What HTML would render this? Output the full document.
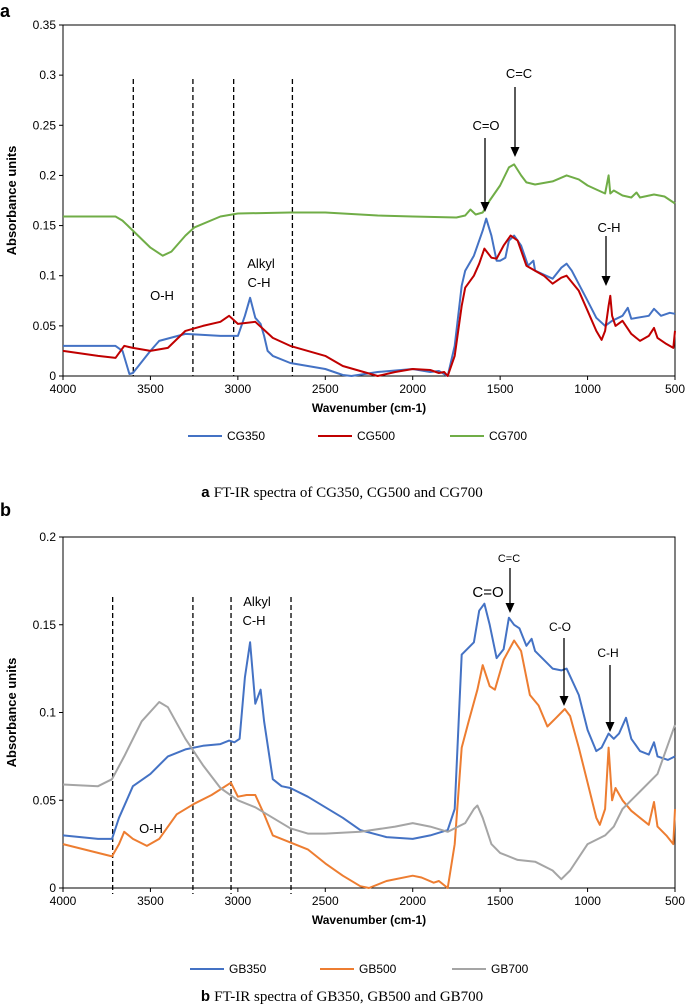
<!DOCTYPE html>
<html><head><meta charset="utf-8"><style>
html,body{margin:0;padding:0;background:#fff;}
svg{display:block;font-family:"Liberation Sans",sans-serif;}
.cap{font-family:"Liberation Serif",serif;font-size:15px;}
</style></head><body>
<svg id="svg" width="685" height="1008" viewBox="0 0 685 1008"></svg>
<script>
const xTicks=[4000,3500,3000,2500,2000,1500,1000,500];
const yTicksA=[0,0.05,0.1,0.15,0.2,0.25,0.3,0.35];
const yTicksB=[0,0.05,0.1,0.15,0.2];
const cg350=[[4000,0.030],[3700,0.030],[3660,0.025],[3620,0.002],[3600,0.003],[3500,0.025],[3450,0.035],[3300,0.042],[3100,0.040],[3000,0.040],[2960,0.06],[2930,0.078],[2900,0.058],[2870,0.052],[2850,0.04],[2830,0.025],[2800,0.02],[2700,0.013],[2500,0.007],[2400,0.001],[2350,0.0],[2200,0.004],[2000,0.007],[1900,0.004],[1850,0.005],[1800,0.0],[1760,0.03],[1720,0.09],[1700,0.105],[1650,0.12],[1600,0.145],[1580,0.157],[1550,0.14],[1520,0.115],[1500,0.115],[1470,0.118],[1450,0.135],[1420,0.14],[1380,0.13],[1340,0.11],[1310,0.115],[1300,0.105],[1200,0.097],[1150,0.108],[1120,0.112],[1090,0.105],[1000,0.075],[950,0.058],[900,0.05],[860,0.055],[800,0.06],[770,0.068],[750,0.057],[650,0.06],[620,0.067],[580,0.06],[530,0.063],[500,0.062]];
const cg500=[[4000,0.025],[3800,0.02],[3700,0.018],[3650,0.03],[3600,0.028],[3500,0.025],[3400,0.028],[3300,0.045],[3200,0.05],[3100,0.054],[3050,0.06],[3000,0.052],[2900,0.054],[2850,0.046],[2800,0.038],[2700,0.03],[2600,0.025],[2500,0.02],[2400,0.01],[2200,0.0],[2100,0.004],[2000,0.007],[1900,0.006],[1850,0.003],[1820,0.004],[1800,0.0],[1760,0.02],[1720,0.07],[1700,0.088],[1650,0.1],[1620,0.112],[1590,0.127],[1550,0.118],[1520,0.117],[1480,0.13],[1440,0.14],[1400,0.135],[1350,0.11],[1300,0.105],[1250,0.1],[1200,0.092],[1150,0.098],[1120,0.1],[1050,0.085],[1000,0.065],[950,0.045],[920,0.036],[900,0.045],[880,0.07],[870,0.08],[860,0.06],[840,0.05],[800,0.055],[750,0.042],[700,0.035],[650,0.04],[620,0.048],[600,0.038],[550,0.032],[510,0.028],[500,0.045]];
const cg700=[[4000,0.159],[3700,0.159],[3660,0.155],[3600,0.145],[3500,0.128],[3430,0.120],[3380,0.124],[3300,0.14],[3250,0.148],[3100,0.159],[3000,0.162],[2700,0.163],[2500,0.163],[2200,0.160],[2000,0.159],[1750,0.158],[1700,0.16],[1670,0.166],[1640,0.161],[1600,0.163],[1560,0.175],[1500,0.19],[1450,0.208],[1420,0.211],[1380,0.2],[1350,0.193],[1300,0.191],[1200,0.194],[1120,0.2],[1050,0.196],[1000,0.19],[950,0.186],[900,0.182],[880,0.2],[870,0.182],[850,0.185],[800,0.18],[750,0.178],[720,0.183],[700,0.178],[620,0.181],[560,0.179],[500,0.172]];
const gb350=[[4000,0.030],[3800,0.028],[3720,0.028],[3680,0.04],[3600,0.058],[3500,0.065],[3400,0.075],[3300,0.079],[3200,0.081],[3100,0.082],[3050,0.084],[3020,0.083],[2990,0.085],[2960,0.12],[2930,0.14],[2900,0.105],[2870,0.113],[2850,0.095],[2800,0.062],[2750,0.058],[2700,0.057],[2600,0.052],[2400,0.04],[2300,0.033],[2150,0.029],[2000,0.028],[1900,0.03],[1800,0.033],[1760,0.045],[1720,0.133],[1680,0.137],[1650,0.14],[1620,0.158],[1590,0.162],[1560,0.15],[1520,0.131],[1480,0.136],[1450,0.154],[1420,0.15],[1390,0.148],[1350,0.138],[1320,0.142],[1300,0.135],[1200,0.125],[1150,0.124],[1120,0.125],[1050,0.11],[1000,0.09],[950,0.078],[920,0.08],[880,0.088],[850,0.085],[820,0.088],[780,0.097],[750,0.085],[700,0.078],[650,0.076],[620,0.083],[600,0.075],[540,0.073],[500,0.075]];
const gb500=[[4000,0.025],[3800,0.02],[3720,0.018],[3680,0.025],[3650,0.032],[3600,0.028],[3520,0.024],[3450,0.028],[3350,0.042],[3250,0.048],[3150,0.053],[3040,0.06],[3000,0.052],[2950,0.053],[2900,0.053],[2850,0.042],[2800,0.03],[2700,0.026],[2600,0.022],[2500,0.014],[2400,0.007],[2300,0.001],[2250,0.0],[2150,0.004],[2000,0.007],[1950,0.006],[1880,0.003],[1850,0.004],[1800,0.0],[1760,0.025],[1720,0.08],[1680,0.095],[1630,0.113],[1600,0.127],[1560,0.115],[1530,0.113],[1480,0.13],[1420,0.141],[1380,0.135],[1330,0.11],[1280,0.104],[1230,0.092],[1180,0.097],[1130,0.102],[1100,0.098],[1050,0.08],[1000,0.06],[950,0.04],[930,0.036],[900,0.045],[880,0.08],[860,0.05],[840,0.057],[800,0.05],[750,0.044],[700,0.04],[650,0.036],[620,0.049],[600,0.035],[550,0.03],[510,0.025],[500,0.045]];
const gb700=[[4000,0.059],[3800,0.058],[3720,0.062],[3650,0.075],[3550,0.095],[3450,0.106],[3400,0.103],[3300,0.085],[3200,0.07],[3100,0.057],[3000,0.05],[2900,0.046],[2800,0.04],[2700,0.034],[2600,0.031],[2500,0.031],[2300,0.032],[2100,0.035],[2000,0.037],[1900,0.035],[1800,0.032],[1700,0.037],[1650,0.045],[1630,0.047],[1600,0.04],[1550,0.025],[1500,0.02],[1400,0.016],[1300,0.015],[1200,0.01],[1150,0.005],[1100,0.01],[1000,0.025],[900,0.03],[850,0.035],[800,0.045],[700,0.055],[600,0.065],[500,0.093]];
const dashA=[3598,3257,3024,2688];
const dashB=[3716,3257,3039,2696];

const NS='http://www.w3.org/2000/svg';
const svg=document.getElementById('svg');
function mk(tag,attrs,parent,text){const e=document.createElementNS(NS,tag);for(const k in attrs)e.setAttribute(k,attrs[k]);if(text!==undefined)e.textContent=text;(parent||svg).appendChild(e);return e;}
const L=63,R=675;
function sx(w){return L+(4000-w)/3500*(R-L);}

function chart(cfg){
  const g=mk('g',{});
  
  
  const sy=v=>cfg.y0-(v/cfg.ymax)*(cfg.y0-cfg.ytop);
  const p=mk('text',{x:0,y:cfg.letterY,'font-size':18,'font-weight':'bold'},g,cfg.letter);
  
  const fr=mk('rect',{x:L,y:cfg.ytop,width:R-L,height:cfg.y0-cfg.ytop,fill:'none',stroke:'#000','stroke-width':1},g);
  
  cfg.yt.forEach(v=>{
    mk('line',{x1:L-4,x2:L,y1:sy(v),y2:sy(v),stroke:'#000'},g);
    const t=mk('text',{x:L-7,y:sy(v)+4,'font-size':12,'text-anchor':'end'},g,String(v));
    
  });
  xTicks.forEach(w=>{
    mk('line',{x1:sx(w),x2:sx(w),y1:cfg.y0,y2:cfg.y0+4,stroke:'#000'},g);
    const t=mk('text',{x:sx(w),y:cfg.y0+17,'font-size':12,'text-anchor':'middle'},g,String(w));
    
  });
  const xt=mk('text',{x:(L+R)/2,y:cfg.y0+36,'font-size':12,'font-weight':'bold','text-anchor':'middle'},g,'Wavenumber (cm-1)');
  
  const ym=(cfg.ytop+cfg.y0)/2;
  const yt=mk('text',{x:16,y:ym,'font-size':13,'font-weight':'bold','text-anchor':'middle',transform:`rotate(-90 16 ${ym})`},g,'Absorbance units');
  
  cfg.dash.forEach(w=>{
    const d=mk('line',{x1:sx(w),x2:sx(w),y1:cfg.dtop,y2:cfg.y0+(cfg.letter==='b'?6:0),stroke:'#000','stroke-width':1.3,'stroke-dasharray':'5,3'},g);
    
  });
  cfg.series.forEach(s=>{
    const pth=mk('path',{d:s.data.map((q,i)=>(i?'L':'M')+sx(q[0]).toFixed(1)+','+sy(q[1]).toFixed(1)).join(''),fill:'none',stroke:s.color,'stroke-width':2,'stroke-linejoin':'round'},g);
    
  });
  cfg.labels.forEach(a=>{
    const t=mk('text',{x:a[1],y:a[2],'font-size':a[3]||13,'text-anchor':'middle'},g,a[0]);
    
  });
  cfg.arrows.forEach(a=>{
    const l=mk('line',{x1:a[0],x2:a[0],y1:a[1],y2:a[2]-8,stroke:'#000','stroke-width':1.3},g);
    
    mk('polygon',{points:`${a[0]-4.5},${a[2]-10} ${a[0]+4.5},${a[2]-10} ${a[0]},${a[2]}`,fill:'#000'},g);
  });
  cfg.series.forEach((s,i)=>{
    const lx=cfg.legX[i];
    const lg=mk('g',{},g);
    
    mk('line',{x1:lx,x2:lx+34,y1:cfg.legY,y2:cfg.legY,stroke:s.color,'stroke-width':2},lg);
    mk('text',{x:lx+39,y:cfg.legY+4,'font-size':12},lg,s.label);
  });
  const c=mk('text',{x:342,y:cfg.capY,'text-anchor':'middle',class:'cap'},g);
  
  mk('tspan',{'font-family':'Liberation Sans, sans-serif','font-weight':'bold'},c,cfg.letter+' ');
  mk('tspan',{},c,cfg.caption);
}

chart({name:'chart-a',letter:'a',letterY:17,ytop:25,y0:376,ymax:0.35,yt:yTicksA,dash:dashA,dtop:79,
  series:[{label:'CG350',color:'#4472C4',data:cg350},{label:'CG500',color:'#C00000',data:cg500},{label:'CG700',color:'#70AD47',data:cg700}],
  labels:[['O-H',162,300],['Alkyl',261,268],['C-H',259,287],['C=O',486,130],['C=C',519,78],['C-H',609,232]],
  arrows:[[485,138,212],[515,87,157],[606,236,286]],
  legX:[188,318,450],legY:436,capY:497,caption:'FT-IR spectra of CG350, CG500 and CG700'});

chart({name:'chart-b',letter:'b',letterY:516,ytop:537,y0:888,ymax:0.2,yt:yTicksB,dash:dashB,dtop:597,
  series:[{label:'GB350',color:'#4472C4',data:gb350},{label:'GB500',color:'#ED7D31',data:gb500},{label:'GB700',color:'#A5A5A5',data:gb700}],
  labels:[['O-H',151,833],['Alkyl',257,606],['C-H',254,625],['C=O',488,597,15],['C=C',509,562,11],['C-O',560,631,12],['C-H',608,657,12]],
  arrows:[[510,568,613],[564,638,706],[610,665,732]],
  legX:[190,320,452],legY:969,capY:1001,caption:'FT-IR spectra of GB350, GB500 and GB700'});
</script>
</body></html>
